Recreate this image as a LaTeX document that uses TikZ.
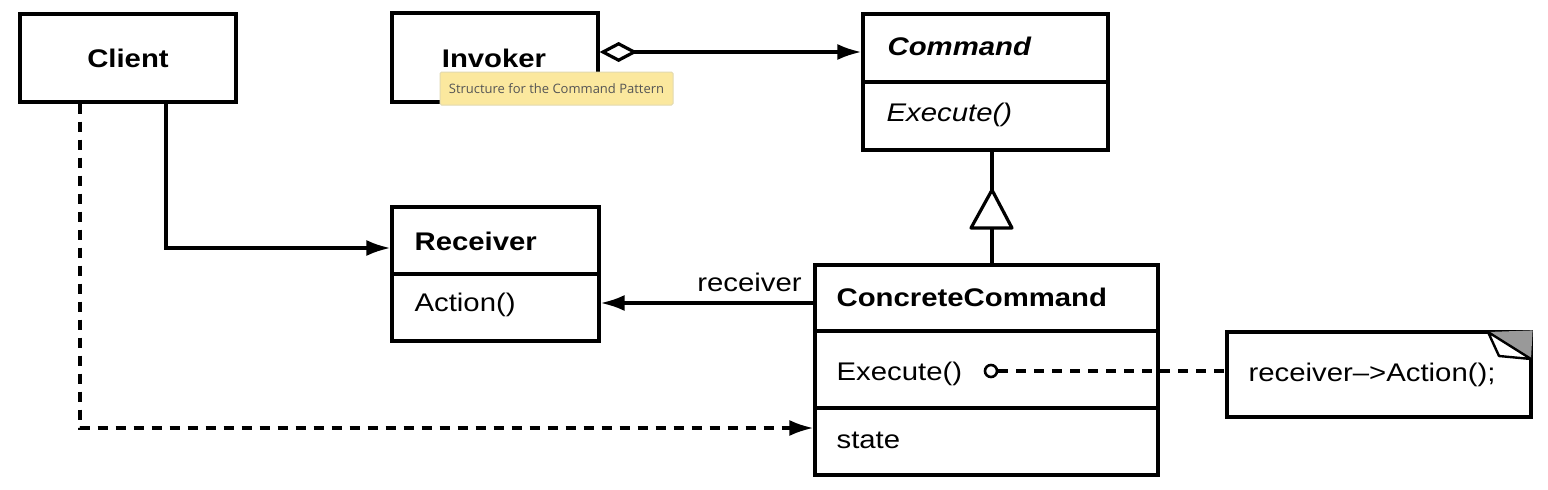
\documentclass[tikz,border=0pt]{standalone}
\usepackage{fontspec}
\setmainfont{Liberation Sans}[FakeStretch=1.15]
\newfontfamily\tipfont{Open Sans}
\usetikzlibrary{arrows.meta}
\definecolor{tipfill}{HTML}{FBE89E}
\definecolor{tipborder}{HTML}{E2D9B0}
\definecolor{tiptext}{HTML}{555555}
\begin{document}
\begin{tikzpicture}[x=1pt,y=-1pt,line width=3.2pt,
  umlbox/.style={draw,rectangle,inner sep=0pt,line width=3.2pt},
  lbl/.style={inner sep=0pt,font=\fontsize{25.5pt}{30pt}\selectfont},
  arr/.style={-{Latex[length=24pt,width=16pt]}},
  dsh/.style={dash pattern=on 10pt off 8pt},
  every node/.style={text=black}]
\useasboundingbox (0,0) rectangle (1548,490);
\fill[white] (0,0) rectangle (1548,490);
% boxes
\node[umlbox,minimum width=216pt,minimum height=88pt] (client) at (128,58) {};
\node[umlbox,minimum width=206pt,minimum height=89pt] (invoker) at (495,57.5) {};
\node[umlbox,minimum width=245pt,minimum height=136pt] (command) at (985.5,82) {};
\node[umlbox,minimum width=207pt,minimum height=134pt] (receiver) at (495.5,274) {};
\node[umlbox,minimum width=343pt,minimum height=210pt] (cc) at (986.5,370) {};
\node[umlbox,minimum width=304pt,minimum height=85pt] (note) at (1379,374.5) {};
% compartments
\draw (command.west |- 0,82) -- (command.east |- 0,82);
\draw (receiver.west |- 0,274) -- (receiver.east |- 0,274);
\draw (cc.west |- 0,331) -- (cc.east |- 0,331);
\draw (cc.west |- 0,408) -- (cc.east |- 0,408);
% labels
\node[lbl,font=\fontsize{25.5pt}{30pt}\selectfont\bfseries] (tclient) at (128,58) {Client};
\node[lbl,font=\fontsize{25.5pt}{30pt}\selectfont\bfseries] (tinvoker) at (494,58) {Invoker};
\node[lbl,anchor=west,font=\fontsize{25.5pt}{30pt}\selectfont\bfseries\itshape] (tcommand) at (886,46) {Command};
\node[lbl,anchor=west,font=\fontsize{25.5pt}{30pt}\selectfont\itshape] (tcexec) at (885,115) {Execute()};
\node[lbl,anchor=west,font=\fontsize{25.5pt}{30pt}\selectfont\bfseries] (treceiver) at (413,241) {Receiver};
\node[lbl,anchor=west] (taction) at (413,305) {Action()};
\node[lbl,anchor=west,font=\fontsize{25.5pt}{30pt}\selectfont\bfseries] (tcc) at (835,297) {ConcreteCommand};
\node[lbl,anchor=west] (tccexec) at (835,374) {Execute()};
\node[lbl,anchor=west] (tstate) at (835,440) {state};
\node[lbl,anchor=west] (tnote) at (1247,375) {receiver-->Action();};
% folded corner
\fill[black!40] (1488,332) -- (note.north east) -- (1531,359) -- cycle;
\draw[line width=2.4pt,fill=white,line join=round] (1488,332) -- (1531,359) -- (1499,356) -- cycle;
% connectors
\draw[arr] ([xshift=38pt]client.south) |- ([yshift=26pt]receiver.west);
\draw[arr,dsh] ([xshift=-48pt]client.south) |- (cc.west |- 0,428);
\draw[arr] (cc.west |- 0,303) -- (receiver.east |- 0,303)
  node[lbl,pos=0.3,above=10pt] (trecv) {receiver};
\draw[{Diamond[open,fill=white,length=38pt,width=20pt]}-{Latex[length=24pt,width=16pt]}]
  (invoker.east |- 0,52) -- (command.west |- 0,52);
% inheritance
\coordinate (apex) at (992,190);
\coordinate (base) at (992,228);
\draw (cc.north -| apex) -- (base);
\draw (command.south -| apex) -- (apex);
\draw[line join=round] (apex) -- (1012,228) -- (971,228) -- cycle;
% note link
\node[draw,circle,line width=2.6pt,minimum size=12pt,inner sep=0pt] (circ) at (991,371) {};
\draw[dsh] (circ.east) -- (note.west |- circ);
% tooltip
\node[draw=tipborder,fill=tipfill,rectangle,rounded corners=1.5pt,line width=1pt,
  minimum width=233pt,minimum height=33pt,inner sep=0pt,
  font=\tipfont\fontsize{13pt}{15pt}\selectfont,text=tiptext] (tip) at (556.5,88.5)
  {Structure for the Command Pattern};
\end{tikzpicture}
\end{document}
